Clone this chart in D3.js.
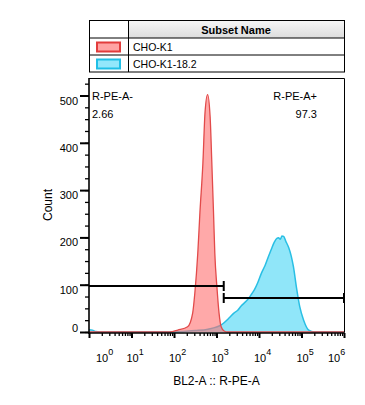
<!DOCTYPE html>
<html>
<head>
<meta charset="utf-8">
<script src="https://cdn.jsdelivr.net/npm/d3@7"></script>
<style>
  body { margin: 0; background: #fff; }
  svg { display: block; font-family: "Liberation Sans", Arial, sans-serif; }
</style>
</head>
<body>
<svg id="chart" width="365" height="405"></svg>
<script>
// subsets shown in the table
const subsetNames = ["CHO-K1", "CHO-K1-18.2"];

// CHO-K1 histogram (BL2-A intensity, count)
const redX = [1, 80, 123, 209, 275, 309, 363, 407, 479, 537, 617, 708, 776, 851, 912, 1023, 1148, 1288, 1514, 1800, 1e6];
const redCount = [0, 0, 4, 11, 40, 82, 167, 252, 358, 464, 502, 455, 358, 252, 167, 95, 40, 11, 2, 0, 0];

// CHO-K1-18.2 histogram
const blueX = [1, 1.2, 1.45, 1.8, 100, 145, 316, 631, 1288, 1995, 2570, 3162, 3802, 4467, 5370, 6457, 7762, 9333, 11482, 13804, 16596, 19498, 22909, 26303, 28840, 31623, 34674, 38019, 42658, 50119, 57544, 64565, 75858, 91201, 112202, 147911, 199526, 1e6];
const blueCount = [5, 4, 1, 0, 0, 1, 3, 6, 15, 30, 40, 46, 55, 61, 68, 78, 89, 104, 125, 140, 159, 175, 190, 198, 199, 196, 203, 202, 192, 178, 160, 138, 95, 53, 25, 4, 0, 0];

// gates
const gateNames = ["R-PE-A-", "R-PE-A+"];
const gatePercents = ["2.66", "97.3"];
const gateBounds = [1, 1480, 1e6];

// axes
const yTicks = [0, 100, 200, 300, 400, 500];
const xDecades = [0, 1, 2, 3, 4, 5, 6];

const svg = d3.select("#chart");
const plot = { left: 89, right: 344, top: 78, bottom: 332 };

const x = d3.scaleLog().domain([1, 1e6]).range([plot.left, plot.right]);
const y = d3.scaleLinear().domain([0, 537]).range([plot.bottom, plot.top]);

// ---- legend table ----
const tbl = { left: 89, right: 344, col: 128, rows: [20.5, 38, 55, 72] };
const defs = svg.append("defs");
const grad = defs.append("linearGradient").attr("id", "hdr").attr("x1", 0).attr("x2", 0).attr("y1", 0).attr("y2", 1);
grad.append("stop").attr("offset", 0).attr("stop-color", "#f6f6f6");
grad.append("stop").attr("offset", 1).attr("stop-color", "#dcdcdc");

svg.append("rect")
  .attr("x", tbl.col).attr("y", tbl.rows[0])
  .attr("width", tbl.right - tbl.col).attr("height", tbl.rows[1] - tbl.rows[0])
  .attr("fill", "url(#hdr)");

svg.append("rect")
  .attr("x", tbl.left + 0.5).attr("y", tbl.rows[0])
  .attr("width", tbl.right - tbl.left).attr("height", tbl.rows[3] - tbl.rows[0])
  .attr("fill", "none").attr("stroke", "#000");

svg.selectAll(".rowline").data(tbl.rows.slice(1, 3)).enter().append("line")
  .attr("x1", tbl.left).attr("x2", tbl.right)
  .attr("y1", d => d).attr("y2", d => d)
  .attr("stroke", "#000");

svg.append("line")
  .attr("x1", tbl.col + 0.5).attr("x2", tbl.col + 0.5)
  .attr("y1", tbl.rows[0]).attr("y2", tbl.rows[3])
  .attr("stroke", "#000");

svg.append("text")
  .attr("x", (tbl.col + tbl.right) / 2).attr("y", 33.5)
  .attr("text-anchor", "middle").attr("font-size", 11).attr("font-weight", "bold")
  .text("Subset Name");

const swatchFill = ["#ffa3a3", "#93e7fb"];
const swatchStroke = ["#e23c3c", "#1fbfe6"];

const legendRows = svg.selectAll(".lrow").data(subsetNames).enter().append("g")
  .attr("transform", (d, i) => `translate(0,${tbl.rows[i + 1]})`);

legendRows.append("rect")
  .attr("x", 97).attr("y", 4.5)
  .attr("width", 23).attr("height", 9)
  .attr("fill", (d, i) => swatchFill[i])
  .attr("stroke", (d, i) => swatchStroke[i])
  .attr("stroke-width", 2);

legendRows.append("text")
  .attr("x", 133).attr("y", 12.5)
  .attr("font-size", 10.5)
  .text(d => d);

// ---- histograms ----
defs.append("clipPath").attr("id", "clip").append("rect")
  .attr("x", plot.left).attr("y", plot.top)
  .attr("width", plot.right - plot.left).attr("height", plot.bottom - plot.top + 1);

const area = d3.area()
  .x(d => x(d[0]))
  .y0(y(0))
  .y1(d => y(d[1]))
  .curve(d3.curveMonotoneX);
const line = area.lineY1();

const blueData = d3.zip(blueX, blueCount);
const redData = d3.zip(redX, redCount);

const hist = svg.append("g").attr("clip-path", "url(#clip)");

hist.append("path").datum(blueData)
  .attr("d", area).attr("fill", "#22cdf4").attr("fill-opacity", 0.5);
hist.append("path").datum(blueData)
  .attr("d", line).attr("fill", "none").attr("stroke", "#29bfe4").attr("stroke-width", 1.5);

hist.append("path").datum(redData)
  .attr("d", area).attr("fill", "#ff6f6f").attr("fill-opacity", 0.6);
hist.append("path").datum(redData)
  .attr("d", line).attr("fill", "none").attr("stroke", "#e24a4a").attr("stroke-width", 1.3);

// ---- frame ----
svg.append("path")
  .attr("d", `M${plot.left},${plot.top + 0.5}H${plot.right + 0.5}V${plot.bottom}`)
  .attr("fill", "none").attr("stroke", "#000");

// ---- y axis ----
const yMinor = d3.range(0, 537, 25);
svg.append("g")
  .attr("transform", `translate(${plot.left},0)`)
  .call(d3.axisLeft(y).tickValues(yMinor).tickSize(4).tickFormat(""))
  .call(g => g.select(".domain").remove())
  .call(g => g.selectAll("line").attr("stroke-width", 1.3));

svg.append("g")
  .attr("transform", `translate(${plot.left},0)`)
  .call(d3.axisLeft(y).tickValues(yTicks).tickSize(9).tickFormat(""))
  .call(g => g.select(".domain").remove())
  .call(g => g.selectAll("line").attr("stroke-width", 2));

svg.append("line")
  .attr("x1", plot.left).attr("x2", plot.left)
  .attr("y1", plot.top).attr("y2", plot.bottom + 2)
  .attr("stroke", "#000").attr("stroke-width", 1.6);

svg.selectAll(".ylab").data(yTicks).enter().append("text")
  .attr("x", 78)
  .attr("y", d => d === 0 ? plot.bottom : y(d) + 9)
  .attr("text-anchor", "end").attr("font-size", 11)
  .text(d => d);

svg.append("text")
  .attr("transform", `translate(52,${(plot.top + plot.bottom) / 2}) rotate(-90)`)
  .attr("text-anchor", "middle").attr("font-size", 12)
  .text("Count");

// ---- x axis ----
const xMinor = [];
xDecades.slice(0, -1).forEach(k => d3.range(2, 10).forEach(m => xMinor.push(m * Math.pow(10, k))));
const xMajor = xDecades.map(k => Math.pow(10, k));

const xAxisY = plot.bottom + 1;
svg.append("g")
  .attr("transform", `translate(0,${xAxisY})`)
  .call(d3.axisBottom(x).tickValues(xMinor).tickSize(3).tickFormat(""))
  .call(g => g.select(".domain").remove())
  .call(g => g.selectAll("line").attr("stroke-width", 1.3));

svg.append("g")
  .attr("transform", `translate(0,${xAxisY})`)
  .call(d3.axisBottom(x).tickValues(xMajor).tickSize(5).tickFormat(""))
  .call(g => g.select(".domain").remove())
  .call(g => g.selectAll("line").attr("stroke-width", 2));

svg.append("line")
  .attr("x1", plot.left).attr("x2", plot.right + 1)
  .attr("y1", xAxisY).attr("y2", xAxisY)
  .attr("stroke", "#000").attr("stroke-width", 1.5);

const xLab = svg.selectAll(".xlab").data(xDecades).enter().append("text")
  .attr("x", d => Math.min(Math.max(x(Math.pow(10, d)) - 5, 96), 328))
  .attr("y", 362)
  .attr("font-size", 11);
xLab.append("tspan").text("10");
xLab.append("tspan").attr("dy", -7).attr("font-size", 9).text(d => d);

svg.append("text")
  .attr("x", (plot.left + plot.right) / 2).attr("y", 385)
  .attr("text-anchor", "middle").attr("font-size", 12)
  .text("BL2-A :: R-PE-A");

// ---- gates ----
const gateY = [286, 298];
const gates = gateNames.map((name, i) => ({ name, pct: gatePercents[i], x0: gateBounds[i], x1: gateBounds[i + 1], gy: gateY[i] }));

const gg = svg.selectAll(".gate").data(gates).enter().append("g");
gg.append("line")
  .attr("x1", d => x(d.x0)).attr("x2", d => x(d.x1))
  .attr("y1", d => d.gy).attr("y2", d => d.gy)
  .attr("stroke", "#000").attr("stroke-width", 2);
gg.append("line")
  .attr("x1", d => x(d.x1)).attr("x2", d => x(d.x1))
  .attr("y1", d => d.gy - 5).attr("y2", d => d.gy + 5)
  .attr("stroke", "#000").attr("stroke-width", 2);
gg.filter((d, i) => i > 0).append("line")
  .attr("x1", d => x(d.x0)).attr("x2", d => x(d.x0))
  .attr("y1", d => d.gy - 5).attr("y2", d => d.gy + 5)
  .attr("stroke", "#000").attr("stroke-width", 2);

gg.append("text")
  .attr("x", (d, i) => i === 0 ? 92 : 317)
  .attr("y", 100)
  .attr("text-anchor", (d, i) => i === 0 ? "start" : "end")
  .attr("font-size", 11)
  .text(d => d.name);
gg.append("text")
  .attr("x", (d, i) => i === 0 ? 92 : 317)
  .attr("y", 118)
  .attr("text-anchor", (d, i) => i === 0 ? "start" : "end")
  .attr("font-size", 11)
  .text(d => d.pct);
</script>
</body>
</html>
